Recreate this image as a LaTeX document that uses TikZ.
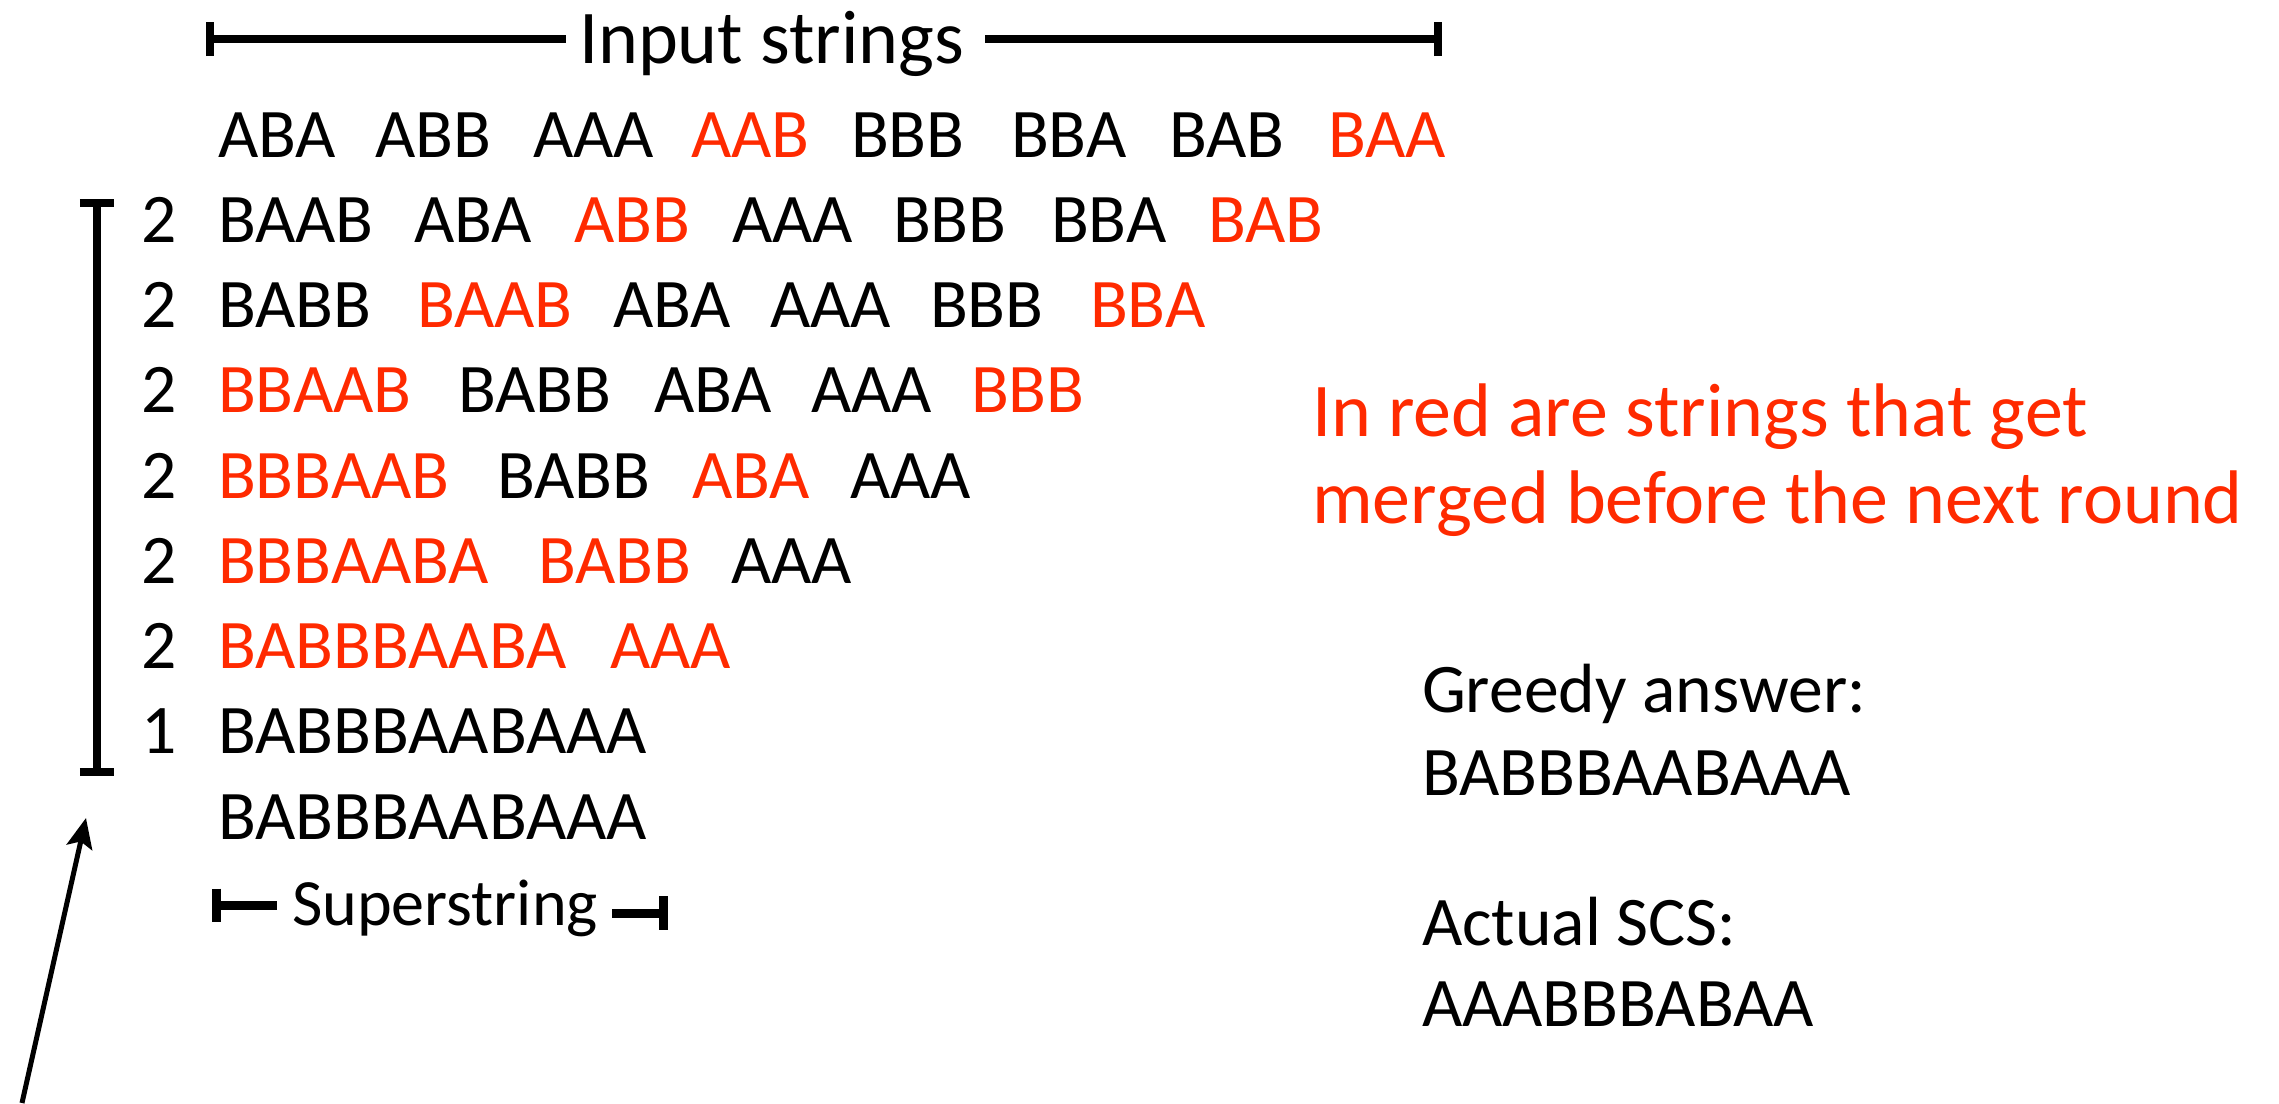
\documentclass[tikz,border=0pt]{standalone}
\usepackage{fontspec}
\setmainfont{Carlito}
\usetikzlibrary{arrows.meta}
\definecolor{hl}{HTML}{FF2A00}
\begin{document}
\begin{tikzpicture}[x=0.01cm,y=-0.01cm,
  wd/.style={anchor=base west,inner sep=0pt,outer sep=0pt,font=\fontsize{19.8}{24}\selectfont},
  rd/.style={wd,text=hl},
  big/.style={anchor=base west,inner sep=0pt,outer sep=0pt,font=\fontsize{21.6}{26}\selectfont},
  brk/.style={line width=0.075cm,line cap=butt}]
\useasboundingbox (0,0) rectangle (2279,1103);
% top bracket
\node[big] (inp) at (579,63) {Input strings};
\coordinate (tl) at (210,39);
\coordinate (tr) at (1438,39);
\coordinate (tlm) at (566,39);
\coordinate (trm) at (985,39);
\draw[brk] (tl) -- (tlm);
\draw[brk] (trm) -- (tr);
\draw[brk] ([yshift=-0.17cm]tl) -- ([yshift=0.17cm]tl);
\draw[brk] ([yshift=-0.17cm]tr) -- ([yshift=0.17cm]tr);
% row 0
\node[wd] (a1) at (218,157) {ABA};
\node[wd] (a2) at (375,157) {ABB};
\node[wd] (a3) at (533,157) {AAA};
\node[rd] (a4) at (691,157) {AAB};
\node[wd] (a5) at (851,157) {BBB};
\node[wd] (a6) at (1011,157) {BBA};
\node[wd] (a7) at (1169,157) {BAB};
\node[rd] (a8) at (1328,157) {BAA};
% row 1
\node[wd] (n1) at (141,242) {2};
\node[wd] (b1) at (218,242) {BAAB};
\node[wd] (b2) at (414,242) {ABA};
\node[rd] (b3) at (574,242) {ABB};
\node[wd] (b4) at (732,242) {AAA};
\node[wd] (b5) at (893,242) {BBB};
\node[wd] (b6) at (1051,242) {BBA};
\node[rd] (b7) at (1208,242) {BAB};
% row 2
\node[wd] (n2) at (141,327) {2};
\node[wd] (c1) at (218,327) {BABB};
\node[rd] (c2) at (417,327) {BAAB};
\node[wd] (c3) at (613,327) {ABA};
\node[wd] (c4) at (770,327) {AAA};
\node[wd] (c5) at (930,327) {BBB};
\node[rd] (c6) at (1090,327) {BBA};
% row 3
\node[wd] (n3) at (141,412) {2};
\node[rd] (d1) at (218,412) {BBAAB};
\node[wd] (d2) at (458,412) {BABB};
\node[wd] (d3) at (654,412) {ABA};
\node[wd] (d4) at (811,412) {AAA};
\node[rd] (d5) at (971,412) {BBB};
% row 4
\node[wd] (n4) at (141,498) {2};
\node[rd] (e1) at (218,498) {BBBAAB};
\node[wd] (e2) at (497,498) {BABB};
\node[rd] (e3) at (692,498) {ABA};
\node[wd] (e4) at (850,498) {AAA};
% row 5
\node[wd] (n5) at (141,583) {2};
\node[rd] (f1) at (218,583) {BBBAABA};
\node[rd] (f2) at (538,583) {BABB};
\node[wd] (f3) at (731,583) {AAA};
% row 6
\node[wd] (n6) at (141,668) {2};
\node[rd] (g1) at (218,668) {BABBBAABA};
\node[rd] (g2) at (610,668) {AAA};
% row 7
\node[wd] (n7) at (141,753) {1};
\node[wd] (h1) at (218,753) {BABBBAABAAA};
% row 8
\node[wd] (i1) at (218,839) {BABBBAABAAA};
% superstring bracket
\node[wd,font=\fontsize{18.8}{22}\selectfont] (sup) at (292,925) {Superstring};
\coordinate (sl) at (216,905);
\coordinate (slm) at (277,905);
\coordinate (srm) at (612,913);
\coordinate (sr) at (663,913);
\draw[brk,line width=0.09cm] (sl) -- (slm);
\draw[brk,line width=0.09cm] (srm) -- (sr);
\draw[brk,line width=0.09cm] ([yshift=0.165cm]sl) -- ([yshift=-0.165cm]sl);
\draw[brk,line width=0.09cm] ([yshift=0.17cm]sr) -- ([yshift=-0.17cm]sr);
% left bracket
\coordinate (lt) at (97,203);
\coordinate (lb) at (97,772);
\draw[brk] (lt) -- (lb);
\draw[brk] ([xshift=-0.17cm]lt) -- ([xshift=0.17cm]lt);
\draw[brk] ([xshift=-0.17cm]lb) -- ([xshift=0.17cm]lb);
% arrow
\coordinate (arrTail) at (22,1103);
\coordinate (arrTip) at (86,818);
\draw[line width=0.05cm,-{Stealth[length=0.3cm,width=0.26cm,inset=0.06cm]}] (arrTail) -- (arrTip);
% right texts
\node[big,text=hl] (red1) at (1312,436) {In red are strings that get};
\node[big,text=hl] (red2) at (1312,523) {merged before the next round};
\node[wd] (g1t) at (1422,712) {Greedy answer:};
\node[wd] (g2t) at (1422,795) {BABBBAABAAA};
\node[wd] (s1t) at (1422,945) {Actual SCS:};
\node[wd] (s2t) at (1422,1026) {AAABBBABAA};
\end{tikzpicture}
\end{document}
